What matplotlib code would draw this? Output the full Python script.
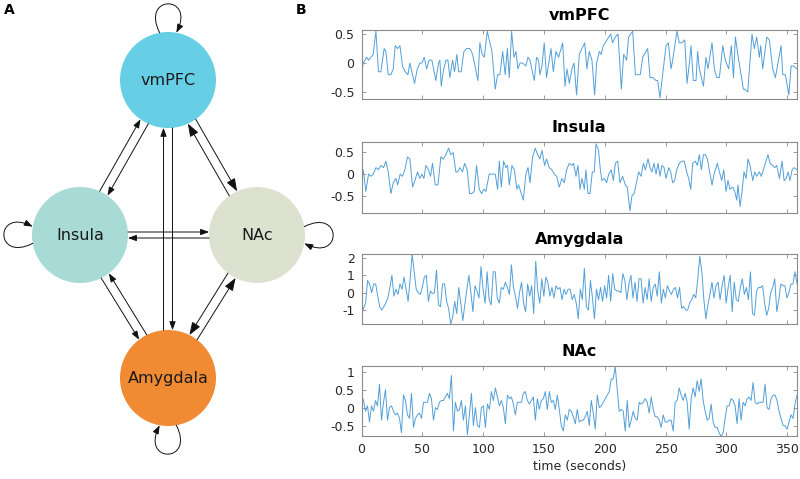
import numpy as np
import matplotlib.pyplot as plt
from matplotlib.patches import Circle, FancyArrowPatch
from matplotlib.path import Path

plt.rcParams['font.family'] = 'DejaVu Sans'
plt.rcParams['axes.unicode_minus'] = False

# ---- panel B data (BOLD signal) ----
vmpfc_t = [0, 1.4, 4.1, 5.7, 7.6, 9.5, 11.7, 13.8, 15.7, 18.4,
           19.8, 21.7, 23.9, 25.8, 27.4, 29.3, 31.2, 33.3, 35.5, 37.7,
           39.3, 43.1, 45.3, 47.4, 49.1, 51, 52.9, 55, 57.2, 60.4,
           62.6, 63.7, 64.8, 66.4, 68.6, 70.2, 71.8, 74, 75.6, 77.5,
           78.9, 81, 83.2, 85.4, 88.1, 90.3, 94.6, 96.2, 98.1, 99.8,
           102.2, 104.4, 106, 108.7, 110.6, 112.5, 114.7, 116.8, 118.5, 120.1,
           122, 123.9, 125.5, 127.1, 128.8, 130.9, 133.6, 135.3, 136.9, 140.4,
           142.3, 143.9, 145, 146.7, 148.5, 150.4, 154, 155.9, 158, 160.2,
           163.5, 165.4, 167, 168.9, 171, 172.7, 174.8, 177, 181.4, 183.2,
           185.1, 187.3, 189.5, 191.1, 193.3, 194.9, 196.5, 202.5, 204.1, 206.3,
           208.5, 211.2, 213.1, 215.5, 217.1, 220.4, 222.6, 224.4, 226.6, 228.5,
           232.6, 234.5, 236.7, 239.4, 240.7, 242.6, 244.2, 247.5, 249.4, 251.6,
           252.9, 256.4, 258.3, 260.5, 262.7, 264.6, 266.5, 267.8, 269.7, 271.9,
           273.2, 274.6, 277.9, 280, 281.6, 284.9, 286.8, 288.7, 290.9, 293.6,
           295.7, 298.4, 300.6, 302.3, 303.9, 306.6, 310.4, 311.5, 313.9, 317.4,
           319.3, 321.2, 323.4, 324.5, 326.1, 329.4, 331.5, 334.2, 336.4, 341,
           342.4, 344.5, 347.3, 349.2, 351.1, 354]
vmpfc_v = [-0.2, 0, 0.1, 0.05, 0.1, 0.15, 0.55, -0.15, -0.15, 0.25,
           0.2, -0.2, -0.2, -0.1, 0.3, 0.25, 0.3, -0.05, -0.15, -0.2,
           0, -0.35, -0.1, 0, 0, 0.1, -0.1, 0.05, 0.05, -0.3,
           0, 0.05, -0.4, -0.15, 0.05, 0.05, -0.25, 0.05, -0.15, 0.15,
           -0.15, -0.15, 0.2, 0.25, 0.25, 0.15, -0.3, 0.35, 0.15, 0.1,
           0.55, 0.35, 0.2, -0.45, -0.2, -0.2, 0.2, -0.2, 0.25, -0.25,
           0.55, 0.1, 0.2, -0.1, 0, 0, -0.05, 0.1, 0.05, -0.3,
           0.1, 0.05, -0.2, -0.05, 0.35, -0.25, 0.25, -0.15, 0.2, 0.1,
           0.35, -0.4, -0.1, -0.35, -0.1, 0, -0.55, 0.15, 0.35, -0.1,
           0.2, 0.05, -0.55, 0, 0.2, 0.15, 0.3, 0.5, 0.35, 0.45,
           0.5, -0.45, 0.15, 0.05, 0.45, 0.55, -0.2, -0.2, -0.2, 0.1,
           0.25, -0.25, -0.25, -0.3, -0.3, -0.6, -0.3, 0.3, 0.35, -0.1,
           0.05, 0.55, 0.35, 0.35, 0.4, -0.35, 0, 0.3, -0.3, -0.3,
           0.2, -0.1, -0.4, 0.1, -0.1, 0.35, -0.1, -0.25, -0.25, 0.3,
           0.05, -0.1, 0.3, -0.25, 0.45, 0.05, -0.45, -0.45, -0.5, 0.5,
           0.25, 0.45, 0.1, 0.3, -0.1, 0.45, 0.4, -0.1, -0.25, 0.3,
           -0.2, -0.2, -0.55, -0.05, -0.05, -0.1]

insula_t = [0, 1.4, 3.5, 5.7, 7.6, 9.5, 11.7, 13.8, 15.7, 17.9,
            19.8, 21.7, 23.9, 25.8, 27.9, 29.3, 31.4, 33.3, 35.2, 37.4,
            39.3, 41.5, 43.4, 45.5, 47.4, 49.1, 50.7, 52.3, 54.5, 56.1,
            57.7, 59.9, 62.1, 64.5, 66.4, 68.6, 70.8, 72.6, 74.5, 76.7,
            78.1, 80, 82.1, 83.8, 85.9, 87.8, 89.7, 91.6, 93.5, 95.7,
            97.6, 99.5, 101.1, 103.8, 106.5, 108.7, 110.6, 112, 113.6, 115.5,
            117.4, 118.7, 120.1, 122.3, 124.2, 126.3, 127.7, 129.3, 131.5, 133.6,
            135.3, 136.9, 139.1, 141.2, 143.1, 145, 146.7, 148.8, 150.4, 152.6,
            154.7, 156.7, 158.6, 160.7, 162.9, 164.8, 166.7, 168.9, 171, 172.4,
            174.3, 175.9, 177.6, 179.2, 181.1, 182.4, 184.1, 185.7, 187.6, 189.2,
            190.6, 192.7, 194.1, 195.4, 197.3, 199.2, 200.9, 203, 204.7, 206.3,
            208.2, 210.1, 212.2, 214.4, 216, 218.2, 219.8, 221.7, 223.4, 225.3,
            227.2, 229.1, 230.7, 232.9, 234.5, 236.1, 237.7, 239.4, 241, 242.6,
            244.2, 245.9, 247.5, 249.7, 251.3, 252.9, 254.5, 256.2, 258.3, 260.5,
            262.4, 264.3, 265.9, 267.6, 269.2, 271.3, 273, 274.6, 276.2, 277.9,
            279.5, 281.1, 282.7, 284.9, 286.5, 288.2, 289.2, 290.9, 292.8, 294.4,
            296.3, 297.9, 299.5, 301.7, 303.3, 305, 306, 307.7, 309.3, 310.9,
            312.6, 314.2, 315.8, 318, 319.6, 321.2, 323.4, 325, 326.6, 328.8,
            330.4, 332.1, 334.2, 335.9, 337.5, 339.7, 341.8, 343.5, 345.1, 346.7,
            348.3, 350, 351.7, 354]
insula_v = [-0.2, 0.1, -0.4, 0, -0.05, 0, 0.15, 0.1, 0.2, 0.15,
            0.3, 0.05, -0.45, -0.2, -0.1, -0.25, 0, -0.05, 0.1, 0.4,
            0.35, -0.3, -0.15, 0.05, -0.1, 0, -0.1, 0.2, 0.1, -0.05,
            0.25, -0.25, -0.25, 0.4, 0.35, 0.45, 0.6, 0.45, 0.5, 0.05,
            0.05, 0.15, 0.05, 0.25, 0.1, -0.45, -0.45, -0.4, 0.2, -0.35,
            -0.45, -0.35, -0.4, 0, 0, 0, -0.35, 0.3, -0.3, 0.3,
            0.15, 0.2, -0.25, 0.2, 0.1, -0.35, -0.25, -0.4, -0.6, 0,
            0.15, -0.2, 0.4, 0.6, 0.45, 0.35, 0.55, 0.2, 0.35, 0.15,
            0.1, 0, -0.05, -0.3, -0.1, -0.2, 0.1, 0.25, 0.2, 0.25,
            -0.05, 0.2, -0.35, -0.1, -0.35, 0.1, -0.45, -0.45, 0.05, 0.05,
            0.7, 0.55, 0.1, -0.15, -0.1, -0.2, 0, 0.1, -0.15, 0.25,
            0.3, -0.2, -0.05, -0.25, -0.3, -0.85, -0.5, -0.45, -0.2, 0.05,
            -0.05, 0.25, 0.1, 0.35, 0.15, 0.05, 0.25, 0, 0.25, -0.05,
            0.2, 0.15, -0.1, 0.15, 0.05, -0.2, -0.15, 0.1, 0.25, 0.3,
            0.3, 0.05, -0.1, -0.35, 0.25, 0.3, 0.2, 0.45, 0.1, 0.45,
            0.45, 0.35, 0.1, -0.25, 0, 0.15, 0.25, 0.05, -0.15, 0.1,
            -0.4, -0.15, -0.35, -0.3, -0.4, -0.6, -0.25, -0.75, -0.4, 0.05,
            -0.1, 0.35, 0.2, -0.15, 0.05, -0.05, 0.05, -0.05, 0.1, 0.3,
            0.45, 0.25, 0.2, 0.15, 0.2, -0.1, 0.3, -0.15, -0.1, 0.05,
            -0.15, 0.1, 0.15, 0.1]

# amygdala and NAc were read at a regular step across the run
amyg_v = [-1.3, -0.9, -0.6, 0.7, 0.5, 0, 0.5, 0.5, -0.2, -0.8,
          -1, -0.8, -0.6, -0.3, 0.3, 1, -0.2, 0.2, -0.1, 0.5,
          0.2, 0.9, 0.2, -0.5, 0.8, 2.2, 1.2, 0.2, 0, -0.1,
          0.3, 0.9, 1.0, -0.5, 0.1, -0.05, 0.0, 1.3, -0.7, -0.8,
          0.5, 0.5, -0.5, -0.9, -1.8, -1.4, -0.5, -1.2, 0.3, -0.6,
          -1.6, -0.7, 0.2, 1.0, 0, -1.1, 0.4, 0.1, -0.3, 1.5,
          0.2, -0.6, 1.2, -0.4, -0.7, 1.2, 1.2, -0.3, -0.6, 0.3,
          0.2, 0.6, 0.3, -0.1, 1.6, 0.3, -0.2, -0.9, 0, 0.6,
          -0.6, -1.1, 0.5, -0.2, 0.4, -1.2, 1.8, 0.1, -0.6, 0.8,
          -0.2, 0.9, 0.6, -0.2, 0.3, -0.3, 0.4, 0.2, 0.3, -0.4,
          0.2, -0.1, 0.2, 0.2, -0.4, -0.1, -0.6, -1.5, 0.2, -0.4,
          1.4, -0.8, -1.0, 0.7, -0.3, -1.5, 0.2, -0.4, 0.3, -0.5,
          0.4, -0.3, 1, -0.5, 1.1, 0.2, 0.1, 0.1, 0, 1.1,
          0.7, -0.4, 0.5, 1.0, -0.3, 0.6, -0.5, 0.8, 0.8, -0.6,
          0.3, -0.4, 0.8, -0.5, 0.3, 0.5, -0.2, 1.2, -0.6, 0.2,
          -0.3, 0.4, 0.1, -0.1, 0.2, 0.3, -0.3, 0.3, -0.9, -0.8,
          -1, -1, -0.6, -0.4, -0.1, -0.3, 0.8, 2.1, 1.2, -0.4,
          -1.5, -0.7, -0.1, 0.6, -0.3, 0.4, 0.6, -0.4, 0.4, 1.0,
          -0.6, 0.3, 1.0, -1.1, 0.6, -0.4, -0.5, 0.3, 0.8, -0.1,
          0.3, -0.4, 1.2, -1.2, -1.3, 0.1, 0.3, 0.3, 0.4, -0.6,
          -1.3, -0.9, 0, 0.3, 0.8, -1.1, -0.4, 0.5, 0.4, 0.4,
          -0.3, 0, 0.5, 0.5, 1.2, 0.5]

nac_v = [0.35, 0.2, -0.1, 0.05, -0.4, 0.05, -0.1, 0.2, 0.05, 0.65,
         -0.35, 0.15, 0.5, -0.35, 0, 0.05, -0.1, -0.2, -0.15, -0.3,
         -0.7, 0.35, 0.2, -0.2, -0.3, 0.4, -0.55, -0.3, -0.2, -0.15,
         -0.3, 0.15, 0.15, 0.15, 0.4, 0.25, -0.35, 0, -0.05, 0.15,
         0.2, 0.2, 0.3, 0.4, 0.25, 0.9, -0.65, 0.15, -0.1, -0.05,
         0.2, -0.35, 0.05, -0.75, -0.2, 0.4, -0.5, 0, -0.5, -0.55,
         0, 0.05, -0.55, 0.1, -0.05, 0.45, 0.2, 0.55, 0.3, 0.05,
         0.2, 0, -0.45, 0.35, 0.25, 0.3, 0.1, -0.2, 0.15, 0.15,
         0.15, 0.4, 0.45, 0.2, 0.1, 0.2, 0.3, -0.35, 0.25, -0.05,
         0.2, 0.25, 0.45, -0.05, 0.45, 0.15, 0.2, -0.05, 0.35, -0.05,
         -0.5, -0.65, -0.2, -0.35, -0.05, -0.1, -0.25, -0.45, -0.05, -0.4,
         -0.35, -0.35, -0.25, -0.1, -0.5, 0.2, -0.15, -0.6, 0.35, 0.0,
         0.05, 0.15, 0.25, 0.35, 0.45, 0.8, 0.8, 1.15, 0.5, -0.1,
         -0.05, -0.1, -0.65, 0.2, -0.55, -0.35, -0.1, -0.3, -0.35, 0.15,
         0.1, 0.15, 0.25, 0.15, -0.15, 0.3, -0.05, -0.25, -0.25, -0.35,
         -0.55, -0.2, -0.4, -0.4, -0.35, -0.35, -0.65, 0.15, 0.2, 0.55,
         0.35, 0.2, 0.4, 0.15, -0.6, 0.25, 0.55, 0.3, 0.75, 0.45,
         0.8, 0.2, -0.1, -0.35, -0.3, 0.1, -0.4, -0.55, -0.55, -0.7,
         -0.8, -0.7, -0.3, 0.05, 0.05, 0.25, 0.2, 0.05, -0.45, 0.25,
         -0.35, 0.15, 0.05, 0.25, 0.3, 0.2, 0.7, 0.15, 0.1, 0.15,
         0.15, 0.15, 0.65, 0.0, -0.05, 0.25, 0.35, 0.35, 0.2, -0.1,
         -0.3, -0.5, -0.5, -0.6, -0.4, -0.2, -0.3, 0.1, 0.35]

# the time lists above were read against a 0-354 scale; the run ends at 358 s
T_END = 358
fix = T_END / 354
vmpfc_t = np.array(vmpfc_t) * fix
insula_t = np.array(insula_t) * fix
amyg_t = np.linspace(0, T_END, len(amyg_v))
nac_t = np.linspace(0, T_END, len(nac_v))

region_names = ['vmPFC', 'Insula', 'Amygdala', 'NAc']
series_t = [vmpfc_t, insula_t, amyg_t, nac_t]
series_v = [vmpfc_v, insula_v, amyg_v, nac_v]
y_limits = [(-0.62, 0.57), (-0.9, 0.74), (-1.8, 2.22), (-0.79, 1.16)]
y_ticks = [[-0.5, 0, 0.5], [-0.5, 0, 0.5], [-1, 0, 1, 2], [-0.5, 0, 0.5, 1]]
y_ticklabels = [['-0.5', '0', '0.5'], ['-0.5', '0', '0.5'],
                ['-1', '0', '1', '2'], ['-0.5', '0', '0.5', '1']]
x_ticks = [0, 50, 100, 150, 200, 250, 300, 350]

# ---- panel A: network ----
node_names = ['vmPFC', 'Insula', 'NAc', 'Amygdala']
node_xy = {'vmPFC': (168, 80), 'Insula': (80, 235), 'NAc': (257, 235), 'Amygdala': (168, 378)}
node_colors = {'vmPFC': '#67cfe5', 'Insula': '#a8dbd6', 'NAc': '#dde2d0', 'Amygdala': '#f08a33'}
loop_dir = {'vmPFC': -90, 'Insula': 180, 'NAc': 0, 'Amygdala': 90}
# (source, target, side of the pair, heavy arrowhead)
edges = [('vmPFC', 'Insula', 1, False), ('Insula', 'vmPFC', 1, False),
         ('vmPFC', 'NAc', 1, True), ('NAc', 'vmPFC', 1, True),
         ('vmPFC', 'Amygdala', 1, False), ('Amygdala', 'vmPFC', 1, False),
         ('Insula', 'NAc', 1, False), ('NAc', 'Insula', 1, False),
         ('Insula', 'Amygdala', -1, False), ('Amygdala', 'Insula', -1, False),
         ('NAc', 'Amygdala', -1, True), ('Amygdala', 'NAc', -1, True)]
R = 48

fig = plt.figure(figsize=(8, 4.79), dpi=100)
net = fig.add_axes([0, 0, 1, 1])
net.set_xlim(0, 800)
net.set_ylim(479, 0)
net.axis('off')

for name in node_names:
    net.add_patch(Circle(node_xy[name], R, facecolor=node_colors[name], edgecolor='none', zorder=1))
    net.text(*node_xy[name], name, ha='center', va='center', fontsize=11.5, color='#1a1a1a', zorder=3)

small = '-|>,head_length=0.6,head_width=0.22'
for src, dst, side, heavy in edges:
    a = np.array(node_xy[src], float)
    b = np.array(node_xy[dst], float)
    u = (b - a) / np.linalg.norm(b - a)
    d = 3.0 if {src, dst} == {'Insula', 'NAc'} else 4.5
    n = side * d * np.array([u[1], -u[0]])
    along = np.sqrt(R ** 2 - d ** 2)
    p0 = a + n + u * along
    p1 = b + n - u * along
    net.add_patch(FancyArrowPatch(p0, p1, arrowstyle=small, mutation_scale=13 if heavy else 8.5,
                                  lw=0.7, color='#111111', shrinkA=0, shrinkB=0, zorder=2))

for name in node_names:
    c = np.array(node_xy[name], float)
    th = np.deg2rad(loop_dir[name])
    pts = [c + R * np.array([np.cos(th - np.deg2rad(10)), np.sin(th - np.deg2rad(10))]),
           c + 90 * np.array([np.cos(th - np.deg2rad(18)), np.sin(th - np.deg2rad(18))]),
           c + 90 * np.array([np.cos(th + np.deg2rad(18)), np.sin(th + np.deg2rad(18))]),
           c + R * np.array([np.cos(th + np.deg2rad(10)), np.sin(th + np.deg2rad(10))])]
    loop = Path(pts, [Path.MOVETO, Path.CURVE4, Path.CURVE4, Path.CURVE4])
    net.add_patch(FancyArrowPatch(path=loop, arrowstyle=small, mutation_scale=8.5,
                                  lw=0.7, color='#111111', zorder=2))

fig.text(4 / 800, 1 - 10 / 479, 'A', fontsize=10, fontweight='bold', va='center')
fig.text(296 / 800, 1 - 10 / 479, 'B', fontsize=10, fontweight='bold', va='center')

# ---- panel B: time series ----
rects = [[0.4519, 0.7933, 0.5444, 0.144],
         [0.4519, 0.5553, 0.5444, 0.148],
         [0.4519, 0.3236, 0.5444, 0.146],
         [0.4519, 0.0898, 0.5444, 0.146]]
edge_col = '#8a8a8a'
for i, name in enumerate(region_names):
    ax = fig.add_axes(rects[i])
    ax.plot(series_t[i], series_v[i], color='#529fd8', lw=0.7)
    ax.set_xlim(0, T_END)
    ax.set_ylim(*y_limits[i])
    ax.set_yticks(y_ticks[i])
    ax.set_yticklabels(y_ticklabels[i])
    ax.set_xticks(x_ticks)
    if i < 3:
        ax.set_xticklabels([])
    else:
        ax.set_xlabel('time (seconds)', fontsize=9, color='#262626', labelpad=3)
    ax.tick_params(direction='in', length=3, width=0.6, top=True, right=True,
                   color=edge_col, labelsize=9, labelcolor='#262626', pad=5)
    for sp in ax.spines.values():
        sp.set_color(edge_col)
        sp.set_linewidth(0.8)
    ax.set_title(name, fontsize=11.5, fontweight='bold', pad=7)

fig.savefig('out.png', dpi=100)
